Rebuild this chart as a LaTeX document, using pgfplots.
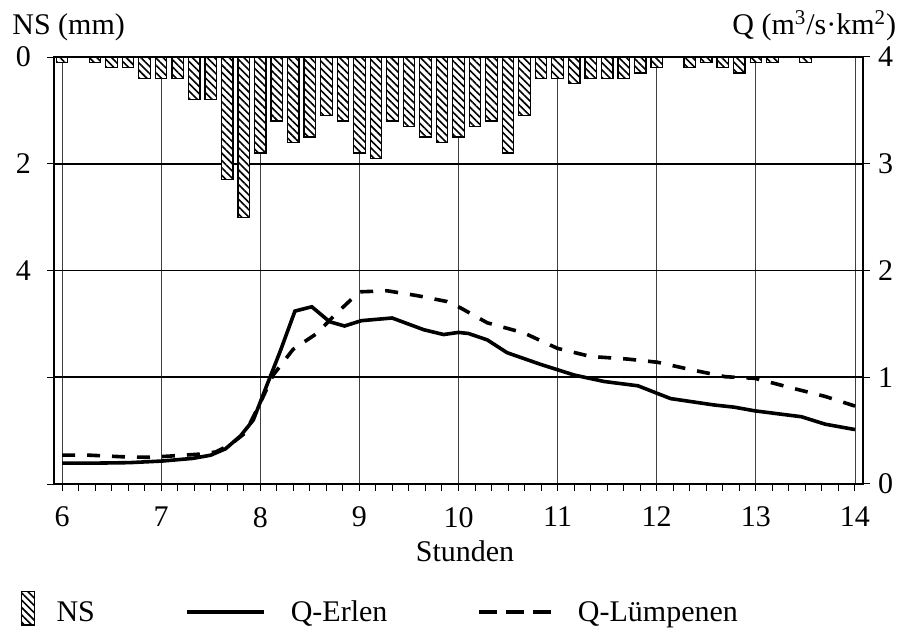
\documentclass[border=0pt]{standalone}
\usepackage{fontspec}
\setmainfont{Liberation Serif}
\usepackage{pgfplots}
\usepackage{pgfplotstable}
\pgfplotsset{compat=1.18}
\usetikzlibrary{patterns.meta}

\pgfplotstableread{
t ns
6.0000 0.1
6.3333 0.1
6.5000 0.2
6.6667 0.2
6.8333 0.4
7.0000 0.4
7.1667 0.4
7.3333 0.8
7.5000 0.8
7.6667 2.3
7.8333 3.0
8.0000 1.8
8.1667 1.2
8.3333 1.6
8.5000 1.5
8.6667 1.1
8.8333 1.2
9.0000 1.8
9.1667 1.9
9.3333 1.2
9.5000 1.3
9.6667 1.5
9.8333 1.6
10.0000 1.5
10.1667 1.3
10.3333 1.2
10.5000 1.8
10.6667 1.1
10.8333 0.4
11.0000 0.4
11.1667 0.5
11.3333 0.4
11.5000 0.4
11.6667 0.4
11.8333 0.3
12.0000 0.2
12.3333 0.2
12.5000 0.1
12.6667 0.2
12.8333 0.3
13.0000 0.1
13.1667 0.1
13.5000 0.1
}\nsdata

\pgfplotstableread{
t q
6.00 0.195
6.37 0.196
6.68 0.200
7.01 0.215
7.32 0.240
7.50 0.270
7.65 0.330
7.80 0.450
7.93 0.600
8.06 0.910
8.20 1.240
8.35 1.620
8.52 1.660
8.70 1.520
8.85 1.480
9.02 1.530
9.33 1.555
9.65 1.445
9.85 1.400
10.00 1.420
10.10 1.410
10.29 1.350
10.49 1.230
10.83 1.120
11.17 1.020
11.47 0.960
11.81 0.920
12.14 0.800
12.58 0.740
12.78 0.720
12.99 0.685
13.46 0.630
13.70 0.560
14.00 0.510
}\erlen

\pgfplotstableread{
t q
6.00 0.270
6.27 0.270
6.61 0.255
6.88 0.250
7.15 0.265
7.39 0.280
7.55 0.300
7.70 0.370
7.85 0.480
8.00 0.760
8.13 1.020
8.33 1.260
8.57 1.410
8.77 1.600
9.00 1.800
9.28 1.810
9.58 1.765
9.88 1.710
10.02 1.650
10.29 1.510
10.66 1.415
11.00 1.270
11.33 1.195
11.71 1.170
12.01 1.140
12.35 1.070
12.69 1.005
12.99 0.990
13.36 0.900
13.70 0.820
14.00 0.730
}\luempenen

\pgfplotsset{
  nsleg/.style={legend image code/.code={%
    \draw[black, line width=0.6pt, preaction={fill=white},
      pattern={Lines[angle=-45,distance=2.6pt,line width=0.8pt]}]
      (0pt,-6pt) rectangle (6.3pt,10.65pt);
    \path (17.15pt,0pt);}},
  erlenleg/.style={legend image code/.code={%
    \draw[black, line width=1.8pt] (0pt,0.5pt) -- (38.5pt,0.5pt);
    \path (51.85pt,0pt);}},
  luempleg/.style={legend image code/.code={%
    \draw[black, line width=1.8pt, dash pattern=on 9pt off 4.5pt] (0pt,0.5pt) -- (36pt,0.5pt);
    \path (49.15pt,0pt);}},
}

\begin{document}
\begin{tikzpicture}[font=\fontsize{15}{18}\selectfont]
\path[use as bounding box] (0,0) rectangle (449pt,315pt);
% Q axis (right), frame, x ticks, vertical grid
\begin{axis}[
  scale only axis, width=404.5pt, height=213.5pt,
  at={(27pt,73pt)}, anchor=south west,
  xmin=5.919, xmax=14.081, ymin=0, ymax=4,
  xtick={6,7,8,9,10,11,12,13,14}, minor x tick num=5,
  ytick={0,1,2,3,4},
  xtick pos=left, ytick pos=right, yticklabel pos=right,
  tick align=outside,
  major tick length=3.5pt, minor tick length=3.5pt,
  every tick/.style={black, line width=0.5pt},
  axis line style={black, line width=0.9pt},
  xmajorgrids, major grid style={black!75, line width=0.45pt},
  ticklabel style={/pgf/number format/assume math mode=true, font=\fontsize{15}{18}\selectfont},
  xticklabel style={yshift=-4.5pt},
  yticklabel style={xshift=0.5pt},
]
\addplot[black, line width=1.8pt] table[x=t,y=q] {\erlen};
\addplot[black, line width=1.8pt, dash pattern=on 6.5pt off 6pt] table[x=t,y=q] {\luempenen};
\end{axis}
% NS axis (left, reversed), bars, horizontal grid, legend
\begin{axis}[
  scale only axis, width=404.5pt, height=213.5pt,
  at={(27pt,73pt)}, anchor=south west,
  xmin=5.919, xmax=14.081, ymin=0, ymax=8, y dir=reverse,
  axis x line=none, axis y line*=left,
  ytick={0,2,4,6,8}, yticklabels={0,2,4,{},{}},
  ytick pos=left, tick align=outside,
  major tick length=3.5pt,
  every tick/.style={black, line width=0.5pt},
  axis line style={black, line width=0.9pt},
  ymajorgrids, major grid style={black, line width=0.8pt},
  ticklabel style={/pgf/number format/assume math mode=true, font=\fontsize{15}{18}\selectfont},
  yticklabel style={xshift=-4.5pt},
  legend columns=3,
  legend style={draw=none, fill=none, inner sep=0pt, at={(-0.0412,-0.291)}, anchor=west,
    nodes={inner sep=0pt}, font=\fontsize{15}{18}\selectfont,
    /tikz/every even column/.append style={column sep=45pt}},
  legend cell align=left,
]
\addplot[ybar, bar width=0.116, draw=black, line width=0.6pt, preaction={fill=white},
  pattern={Lines[angle=-45,distance=2.6pt,line width=0.8pt]}, nsleg]
  table[x=t,y=ns] {\nsdata};
\addlegendentry{NS}
\addlegendimage{erlenleg}
\addlegendentry{Q-Erlen}
\addlegendimage{luempleg}
\addlegendentry{Q-Lümpenen}
\end{axis}
\node[anchor=base west, inner sep=0pt] at (6pt,297.5pt) {NS (mm)};
\node[anchor=base east, inner sep=0pt] at (448.3pt,297.5pt) {Q (m\textsuperscript{3}/s·km\textsuperscript{2})};
\node[anchor=base, inner sep=0pt] at (232.5pt,34pt) {Stunden};
\end{tikzpicture}
\end{document}
